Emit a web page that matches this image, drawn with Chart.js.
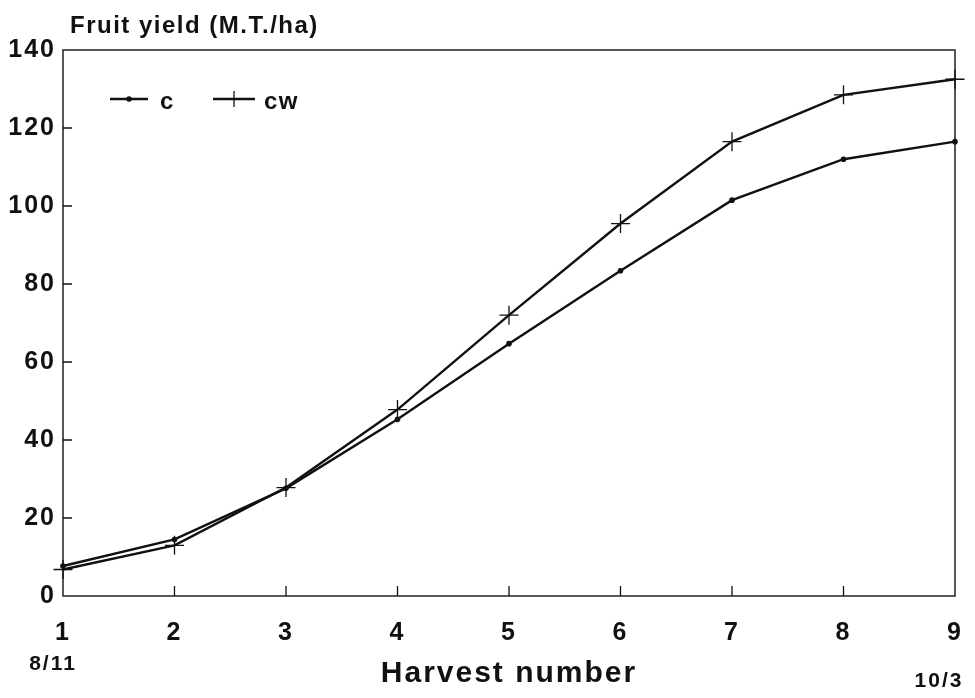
<!DOCTYPE html>
<html>
<head>
<meta charset="utf-8">
<script src="https://cdn.jsdelivr.net/npm/chart.js@4.4.1/dist/chart.umd.min.js"></script>
<style>
  html, body { margin: 0; padding: 0; background: #ffffff; }
  #wrap { width: 975px; height: 698px; position: relative; }
</style>
</head>
<body>
<div id="wrap"><canvas id="c"></canvas></div>
<script>
// ---- data ----
const harvests = [1, 2, 3, 4, 5, 6, 7, 8, 9];
const cValues  = [7.7, 14.5, 27.6, 45.3, 64.7, 83.4, 101.5, 112.0, 116.5];
const cwValues = [6.8, 13.0, 27.8, 47.8, 72.0, 95.5, 116.5, 128.5, 132.5];
const seriesNames = ['c', 'cw'];
const yTicks = [0, 20, 40, 60, 80, 100, 120, 140];
const dateLabels = [{ at: 1, text: '8/11' }, { at: 9, text: '10/3' }];
const yTitle = 'Fruit yield (M.T./ha)';
const xTitle = 'Harvest number';

const INK = '#111111';
const FONT = '"Liberation Sans", Arial, Helvetica, sans-serif';

const toPoints = vals => harvests.map((h, i) => ({ x: h, y: vals[i] }));

const spacingPlugin = {
  id: 'spacing',
  beforeDraw(chart) { chart.ctx.letterSpacing = '2px'; },
  afterDraw(chart) { chart.ctx.letterSpacing = '0px'; }
};

const framePlugin = {
  id: 'frame',
  afterDatasetsDraw(chart) {
    const { ctx, chartArea: a, scales } = chart;
    ctx.save();
    ctx.strokeStyle = INK;
    ctx.lineWidth = 1.4;
    ctx.strokeRect(a.left, a.top, a.right - a.left, a.bottom - a.top);
    // inward ticks
    ctx.lineWidth = 1.3;
    ctx.beginPath();
    yTicks.forEach(v => {
      if (v === 0 || v === 140) return;
      const y = scales.y.getPixelForValue(v);
      ctx.moveTo(a.left, y); ctx.lineTo(a.left + 9, y);
    });
    harvests.forEach(h => {
      if (h === 1 || h === 9) return;
      const x = scales.x.getPixelForValue(h);
      ctx.moveTo(x, a.bottom); ctx.lineTo(x, a.bottom - 10);
    });
    ctx.stroke();

    // y title (horizontal, top-left)
    ctx.fillStyle = INK;
    ctx.letterSpacing = '1.5px';
    ctx.font = 'bold 24px ' + FONT;
    ctx.textAlign = 'left';
    ctx.textBaseline = 'alphabetic';
    ctx.fillText(yTitle, a.left + 7, 33);

    // date labels under first and last harvest
    ctx.letterSpacing = '2px';
    ctx.font = 'bold 21px ' + FONT;
    ctx.textAlign = 'center';
    ctx.textBaseline = 'middle';
    dateLabels.forEach((d, i) => {
      const x = scales.x.getPixelForValue(d.at);
      const dx = i === 0 ? -10 : -16;
      ctx.fillText(d.text, x + dx, i === 0 ? 664 : 681);
    });

    // legend inside plot
    const ds = chart.data.datasets;
    const ly = a.top + 49;
    const items = [
      { x0: a.left + 47, x1: a.left + 85, tx: a.left + 97 },
      { x0: a.left + 150, x1: a.left + 192, tx: a.left + 201 }
    ];
    items.forEach((it, i) => {
      const d = ds[i];
      ctx.strokeStyle = d.borderColor;
      ctx.lineWidth = 2.3;
      ctx.beginPath();
      ctx.moveTo(it.x0, ly); ctx.lineTo(it.x1, ly);
      ctx.stroke();
      const cx = (it.x0 + it.x1) / 2;
      if (d.pointStyle === 'circle') {
        ctx.fillStyle = INK;
        ctx.beginPath(); ctx.arc(cx, ly, 2.8, 0, Math.PI * 2); ctx.fill();
      } else {
        ctx.lineWidth = 1.3;
        ctx.beginPath();
        ctx.moveTo(cx - 8, ly); ctx.lineTo(cx + 8, ly);
        ctx.moveTo(cx, ly - 8); ctx.lineTo(cx, ly + 8);
        ctx.stroke();
      }
      ctx.fillStyle = INK;
      ctx.letterSpacing = '1.5px';
      ctx.font = 'bold 24px ' + FONT;
      ctx.textAlign = 'left';
      ctx.textBaseline = 'middle';
      ctx.fillText(d.label, it.tx, ly + 3);
    });
    ctx.restore();
  }
};

new Chart(document.getElementById('c'), {
  type: 'line',
  data: {
    datasets: [
      {
        label: seriesNames[0],
        data: toPoints(cValues),
        borderColor: INK,
        backgroundColor: INK,
        borderWidth: 2.4,
        pointStyle: 'circle',
        pointRadius: 2.8,
        pointBorderWidth: 0,
        tension: 0,
        clip: false
      },
      {
        label: seriesNames[1],
        data: toPoints(cwValues),
        borderColor: INK,
        backgroundColor: INK,
        borderWidth: 2.4,
        pointStyle: 'cross',
        pointRadius: 9.5,
        pointBorderWidth: 1.3,
        pointBorderColor: INK,
        tension: 0,
        clip: false
      }
    ]
  },
  options: {
    responsive: true,
    maintainAspectRatio: false,
    animation: false,
    devicePixelRatio: 1,
    layout: { padding: { top: 50, right: 20, left: 0, bottom: 0 } },
    plugins: {
      legend: { display: false },
      tooltip: { enabled: false },
      title: { display: false }
    },
    scales: {
      x: {
        type: 'linear',
        min: 1,
        max: 9,
        grid: { display: false, drawTicks: false },
        border: { display: false },
        afterBuildTicks: s => { s.ticks = harvests.map(v => ({ value: v })); },
        ticks: {
          color: INK,
          font: { family: FONT, size: 25, weight: 'bold' },
          padding: 22,
          maxRotation: 0,
          autoSkip: false
        },
        title: {
          display: true,
          text: xTitle,
          color: INK,
          font: { family: FONT, size: 30, weight: 'bold' },
          padding: { top: 0, bottom: 6 }
        },
        afterFit: s => { s.height = 102; s.paddingLeft = 0; s.paddingRight = 0; }
      },
      y: {
        min: 0,
        max: 140,
        grid: { display: false, drawTicks: false },
        border: { display: false },
        afterBuildTicks: s => { s.ticks = yTicks.map(v => ({ value: v })); },
        ticks: {
          color: INK,
          font: { family: FONT, size: 25, weight: 'bold' },
          padding: 7
        },
        afterFit: s => { s.width = 63; s.paddingTop = 0; s.paddingBottom = 0; }
      }
    }
  },
  plugins: [spacingPlugin, framePlugin]
});
</script>
</body>
</html>
